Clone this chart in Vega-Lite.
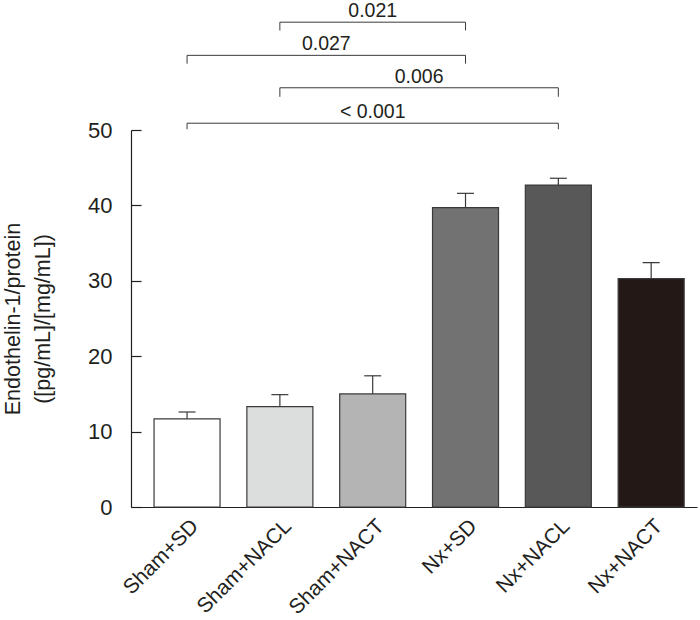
{
  "$schema": "https://vega.github.io/schema/vega-lite/v6.json",
  "width": 566,
  "height": 377,
  "autosize": {"type": "none"},
  "padding": {"left": 131, "top": 130, "right": 3, "bottom": 113},
  "config": {
    "font": "Liberation Sans",
    "view": {"stroke": null},
    "axis": {"labelColor": "#231f20", "titleColor": "#231f20", "domainColor": "#231f20", "tickColor": "#231f20", "grid": false}
  },
  "datasets": {
    "bars": [
      {"group": "Sham+SD", "order": 1, "mean": 11.7, "upper": 12.6},
      {"group": "Sham+NACL", "order": 2, "mean": 13.3, "upper": 14.9},
      {"group": "Sham+NACT", "order": 3, "mean": 15.0, "upper": 17.4},
      {"group": "Nx+SD", "order": 4, "mean": 39.7, "upper": 41.6},
      {"group": "Nx+NACL", "order": 5, "mean": 42.7, "upper": 43.6},
      {"group": "Nx+NACT", "order": 6, "mean": 30.3, "upper": 32.4}
    ],
    "brackets": [
      {"p": "0.021", "from": 2, "to": 4, "level": 64.3, "foot": 63.2},
      {"p": "0.027", "from": 1, "to": 4, "level": 59.9, "foot": 58.8},
      {"p": "0.006", "from": 2, "to": 5, "level": 55.6, "foot": 54.4},
      {"p": "< 0.001", "from": 1, "to": 5, "level": 50.9, "foot": 50.1}
    ]
  },
  "layer": [
    {
      "data": {"name": "bars"},
      "mark": {"type": "bar", "width": 66, "stroke": "#3a3a3a", "strokeWidth": 1.2},
      "encoding": {
        "x": {
          "field": "order", "type": "quantitative",
          "scale": {"domain": [0.45, 6.44], "nice": false, "zero": false},
          "axis": {
            "values": [1, 2, 3, 4, 5, 6],
            "labelExpr": "['', 'Sham+SD', 'Sham+NACL', 'Sham+NACT', 'Nx+SD', 'Nx+NACL', 'Nx+NACT'][datum.value]",
            "labelAngle": -45, "labelFontSize": 21, "labelPadding": 8, "labelOverlap": false, "labelBound": false,
            "ticks": false, "title": null, "domainWidth": 1.2
          }
        },
        "y": {
          "field": "mean", "type": "quantitative",
          "scale": {"domain": [0, 50], "nice": false},
          "axis": {
            "values": [0, 10, 20, 30, 40, 50],
            "labelFontSize": 22, "tickSize": -10, "labelPadding": 29, "domainWidth": 1.2, "tickWidth": 1.2,
            "title": ["Endothelin-1/protein", "([pg/mL]/[mg/mL])"],
            "titleFontSize": 21.5, "titleFontWeight": "normal", "titleLineHeight": 30, "titlePadding": 33
          }
        },
        "fill": {
          "field": "group", "type": "nominal",
          "scale": {
            "domain": ["Sham+SD", "Sham+NACL", "Sham+NACT", "Nx+SD", "Nx+NACL", "Nx+NACT"],
            "range": ["#ffffff", "#dcdddd", "#b4b4b4", "#727272", "#585858", "#231815"]
          },
          "legend": null
        }
      }
    },
    {
      "data": {"name": "bars"},
      "mark": {"type": "rule", "color": "#3a3a3a", "strokeWidth": 1.2},
      "encoding": {
        "x": {"field": "order", "type": "quantitative"},
        "y": {"field": "mean", "type": "quantitative"},
        "y2": {"field": "upper"}
      }
    },
    {
      "data": {"name": "bars"},
      "mark": {"type": "tick", "orient": "horizontal", "size": 17, "thickness": 1.2, "color": "#3a3a3a", "opacity": 1},
      "encoding": {
        "x": {"field": "order", "type": "quantitative"},
        "y": {"field": "upper", "type": "quantitative"}
      }
    },
    {
      "data": {"name": "brackets"},
      "mark": {"type": "rule", "color": "#3a3a3a", "strokeWidth": 1},
      "encoding": {
        "x": {"field": "from", "type": "quantitative"},
        "x2": {"field": "to"},
        "y": {"field": "level", "type": "quantitative"}
      }
    },
    {
      "data": {"name": "brackets"},
      "mark": {"type": "rule", "color": "#3a3a3a", "strokeWidth": 1},
      "encoding": {
        "x": {"field": "from", "type": "quantitative"},
        "y": {"field": "foot", "type": "quantitative"},
        "y2": {"field": "level"}
      }
    },
    {
      "data": {"name": "brackets"},
      "mark": {"type": "rule", "color": "#3a3a3a", "strokeWidth": 1},
      "encoding": {
        "x": {"field": "to", "type": "quantitative"},
        "y": {"field": "foot", "type": "quantitative"},
        "y2": {"field": "level"}
      }
    },
    {
      "data": {"name": "brackets"},
      "transform": [{"calculate": "(datum.from + datum.to) / 2", "as": "mid"}],
      "mark": {"type": "text", "fontSize": 19.5, "baseline": "alphabetic", "dy": -5, "color": "#231f20"},
      "encoding": {
        "x": {"field": "mid", "type": "quantitative"},
        "y": {"field": "level", "type": "quantitative"},
        "text": {"field": "p"}
      }
    }
  ]
}
